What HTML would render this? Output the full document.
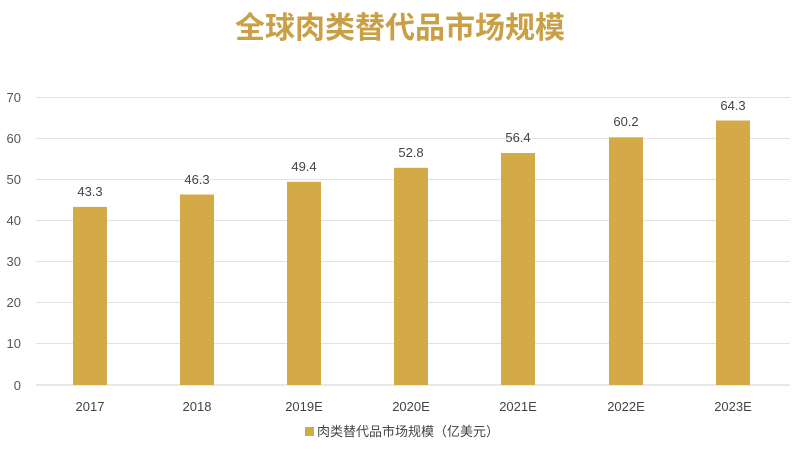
<!DOCTYPE html>
<html><head><meta charset="utf-8"><style>
body{margin:0;background:#fff;}
svg{display:block;font-family:"Liberation Sans","Noto Sans CJK SC",sans-serif;}
</style></head><body>
<svg width="800" height="452" viewBox="0 0 800 452">
<text x="400" y="38" text-anchor="middle" font-size="30" font-weight="bold" fill="#c9a045" font-family="'Noto Sans CJK SC',sans-serif">全球肉类替代品市场规模</text>
<g stroke="#e2e2e2" stroke-width="1">
<line x1="36" x2="790" y1="97.5" y2="97.5"/><line x1="36" x2="790" y1="138.5" y2="138.5"/>
<line x1="36" x2="790" y1="179.5" y2="179.5"/><line x1="36" x2="790" y1="220.5" y2="220.5"/>
<line x1="36" x2="790" y1="261.5" y2="261.5"/><line x1="36" x2="790" y1="302.5" y2="302.5"/>
<line x1="36" x2="790" y1="343.5" y2="343.5"/></g>
<line x1="36" x2="790" y1="385" y2="385" stroke="#d0d0d0"/>
<g font-size="13" fill="#555" text-anchor="end">
<text x="21" y="102">70</text><text x="21" y="143">60</text><text x="21" y="184">50</text><text x="21" y="225">40</text>
<text x="21" y="266">30</text><text x="21" y="307">20</text><text x="21" y="348">10</text><text x="21" y="390">0</text></g>
<g fill="#d4aa48">
<rect x="73" y="206.9" width="34" height="178.1"/>
<rect x="180" y="194.5" width="34" height="190.5"/>
<rect x="287" y="181.8" width="34" height="203.2"/>
<rect x="394" y="167.8" width="34" height="217.2"/>
<rect x="501" y="153" width="34" height="232"/>
<rect x="609" y="137.3" width="34" height="247.7"/>
<rect x="716" y="120.5" width="34" height="264.5"/></g>
<g font-size="13" fill="#444" text-anchor="middle">
<text x="90" y="196">43.3</text><text x="197" y="184">46.3</text><text x="304" y="171">49.4</text>
<text x="411" y="157">52.8</text><text x="518" y="142">56.4</text><text x="626" y="126">60.2</text><text x="733" y="110">64.3</text>
<text x="90" y="411">2017</text><text x="197" y="411">2018</text><text x="304" y="411">2019E</text>
<text x="411" y="411">2020E</text><text x="518" y="411">2021E</text><text x="626" y="411">2022E</text><text x="733" y="411">2023E</text></g>
<rect x="305" y="427" width="9" height="9" fill="#d4aa48"/>
<text x="317" y="436" font-size="13" fill="#444">肉类替代品市场规模（亿美元）</text>
</svg>
</body></html>
